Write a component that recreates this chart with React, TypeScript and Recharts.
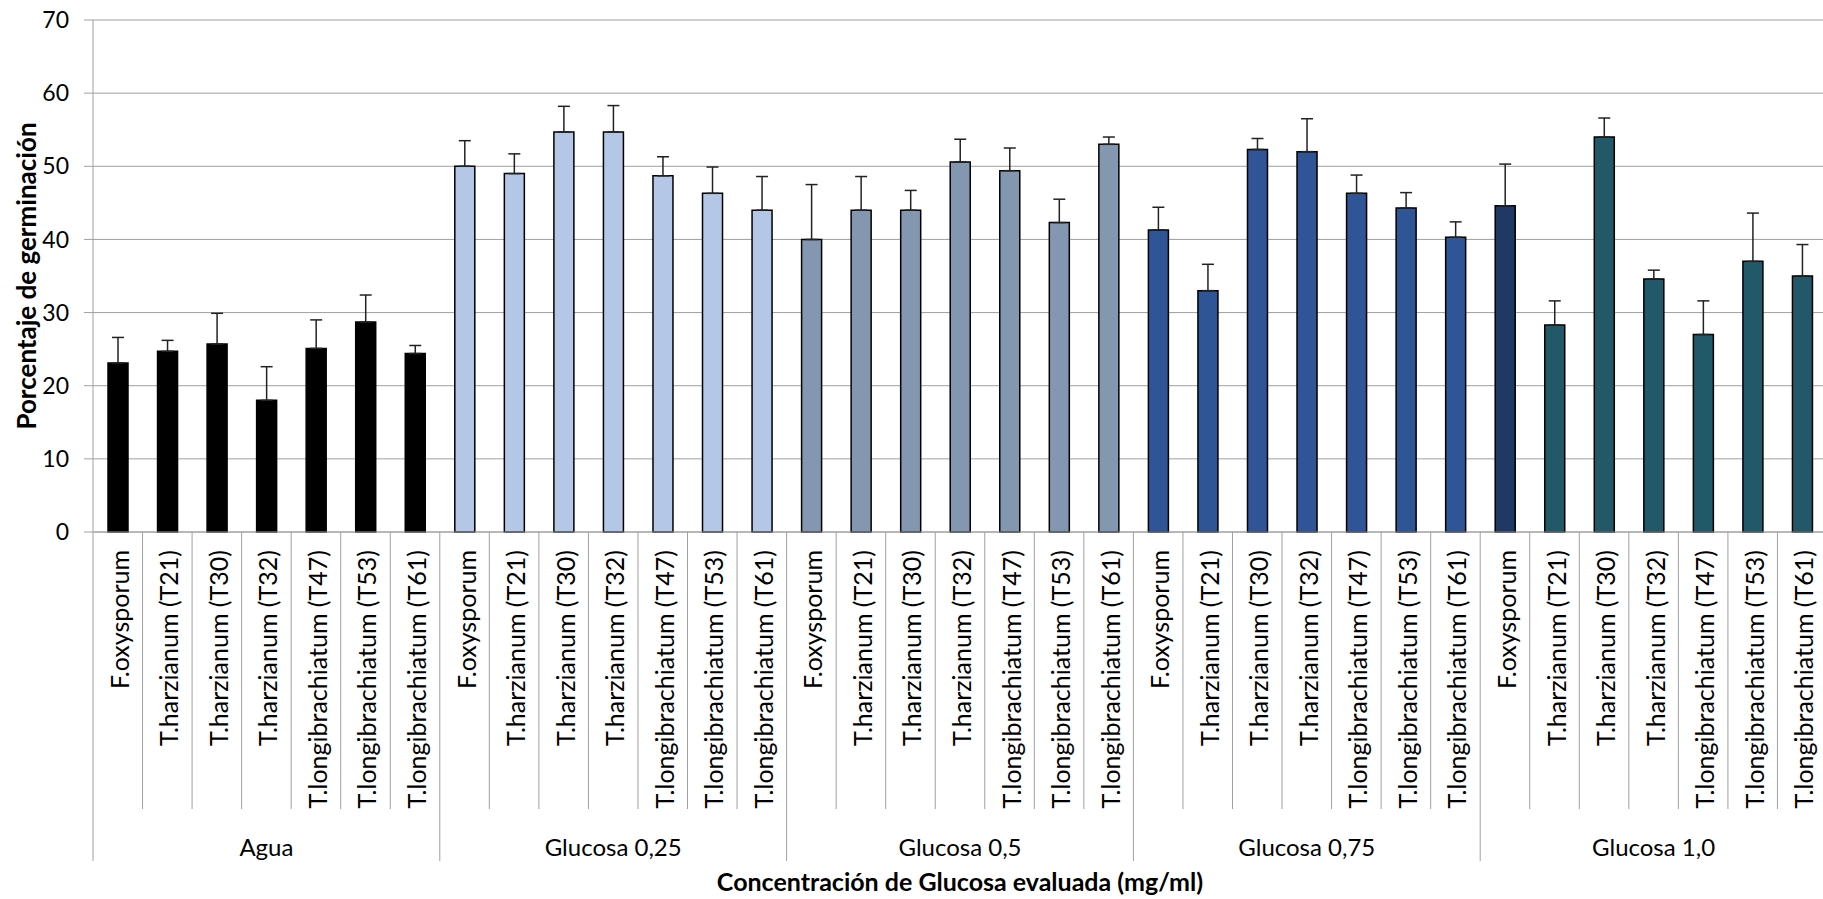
import React from "react";
import { BarChart, Bar, XAxis, YAxis, CartesianGrid, ErrorBar, Cell } from "recharts";

// categorías
const STRAINS = [
  "F.oxysporum",
  "T.harzianum (T21)",
  "T.harzianum (T30)",
  "T.harzianum (T32)",
  "T.longibrachiatum (T47)",
  "T.longibrachiatum (T53)",
  "T.longibrachiatum (T61)",
];
const GROUPS = ["Agua", "Glucosa 0,25", "Glucosa 0,5", "Glucosa 0,75", "Glucosa 1,0"];

// % germinación (media) y desviación (solo hacia arriba)
const aguaMean = [23.1, 24.7, 25.7, 18.0, 25.1, 28.7, 24.4];
const aguaErr = [3.5, 1.5, 4.2, 4.6, 3.9, 3.7, 1.1];
const glu025Mean = [50.0, 49.0, 54.7, 54.7, 48.7, 46.3, 44.0];
const glu025Err = [3.5, 2.7, 3.5, 3.6, 2.6, 3.6, 4.6];
const glu05Mean = [40.0, 44.0, 44.0, 50.6, 49.4, 42.3, 53.0];
const glu05Err = [7.5, 4.6, 2.7, 3.1, 3.1, 3.2, 1.0];
const glu075Mean = [41.3, 33.0, 52.3, 52.0, 46.3, 44.3, 40.3];
const glu075Err = [3.1, 3.6, 1.5, 4.5, 2.5, 2.1, 2.1];
const glu10Mean = [44.6, 28.3, 54.0, 34.6, 27.0, 37.0, 35.0];
const glu10Err = [5.7, 3.3, 2.6, 1.2, 4.6, 6.6, 4.3];

const Y_TICKS = [0, 10, 20, 30, 40, 50, 60, 70];

const MEANS = [aguaMean, glu025Mean, glu05Mean, glu075Mean, glu10Mean];
const ERRS = [aguaErr, glu025Err, glu05Err, glu075Err, glu10Err];

const GROUP_COLORS = ["#000000", "#B4C7E7", "#8497B0", "#2F5597", "#215968"];
const LAST_CONTROL_COLOR = "#203864";

const W = 1827;
const H = 899;
const LEFT = 93;
const TOP = 20;
const AXIS_Y = 532;
const CELL = (W - LEFT) / (GROUPS.length * STRAINS.length);
const GRID = "#a0a0a0";
const FONT = "Lato, 'Open Sans', sans-serif";

const rows = GROUPS.flatMap((g, gi) =>
  STRAINS.map((s, si) => ({
    key: `${g}|${s}`,
    strain: s,
    group: g,
    value: MEANS[gi][si],
    err: [0, ERRS[gi][si]],
    color: gi === 4 && si === 0 ? LAST_CONTROL_COLOR : GROUP_COLORS[gi],
  }))
);

const CatTick = (props: any) => {
  const { x, payload } = props;
  const index = props.index ?? payload.index;
  const row = rows[index];
  if (!row) return null;
  const left = x - CELL / 2;
  const groupStart = index % STRAINS.length === 0;
  const labelTop = AXIS_Y + 18;
  return (
    <g>
      <line x1={left} y1={AXIS_Y} x2={left} y2={groupStart ? 861 : 809} stroke={GRID} strokeWidth={1} />
      {index === rows.length - 1 && (
        <line x1={left + CELL} y1={AXIS_Y} x2={left + CELL} y2={861} stroke={GRID} strokeWidth={1} />
      )}
      <text
        x={x + 1}
        y={labelTop}
        transform={`rotate(-90, ${x + 1}, ${labelTop})`}
        textAnchor="end"
        dominantBaseline="central"
        fontFamily={FONT}
        fontSize={25}
        fill="#000"
      >
        {row.strain}
      </text>
      {index % STRAINS.length === 3 && (
        <text x={x} y={846} textAnchor="middle" dominantBaseline="central" fontFamily={FONT} fontSize={24} fill="#000">
          {row.group}
        </text>
      )}
      {index === 17 && (
        <text
          x={x}
          y={881}
          textAnchor="middle"
          dominantBaseline="central"
          fontFamily={FONT}
          fontSize={25}
          fontWeight="bold"
          fill="#000"
        >
          Concentración de Glucosa evaluada (mg/ml)
        </text>
      )}
    </g>
  );
};

const YTitle = (props: any) => {
  const vb = props.viewBox || {};
  const cy = vb.height ? vb.y + vb.height / 2 : (TOP + AXIS_Y) / 2;
  const cx = 26;
  return (
    <text
      x={cx}
      y={cy}
      transform={`rotate(-90, ${cx}, ${cy})`}
      textAnchor="middle"
      dominantBaseline="central"
      fontFamily={FONT}
      fontSize={26}
      fontWeight="bold"
      fill="#000"
    >
      Porcentaje de germinación
    </text>
  );
};

export default function App() {
  return (
    <div style={{ width: 1823, height: H, overflow: "hidden", background: "#fff" }}>
      <style>{"body{margin:0;background:#fff}"}</style>
      <BarChart width={W} height={H} data={rows} margin={{ top: TOP, right: 0, left: 0, bottom: 0 }}>
        <CartesianGrid vertical={false} stroke={GRID} strokeWidth={1} />
        <XAxis
          dataKey="key"
          interval={0}
          height={H - AXIS_Y}
          tickLine={false}
          tickSize={0}
          tickMargin={0}
          axisLine={{ stroke: GRID }}
          tick={<CatTick />}
        />
        <YAxis
          width={LEFT}
          domain={[0, 70]}
          ticks={Y_TICKS}
          interval={0}
          tickSize={9}
          tickMargin={15}
          axisLine={{ stroke: GRID }}
          tickLine={{ stroke: GRID }}
          tick={{ fontFamily: FONT, fontSize: 23, fill: "#000" }}
          label={<YTitle />}
        />
        <Bar dataKey="value" barSize={20} stroke="#000" strokeWidth={1.5} isAnimationActive={false}>
          {rows.map((r) => (
            <Cell key={r.key} fill={r.color} />
          ))}
          <ErrorBar dataKey="err" direction="y" width={6} stroke="#222" strokeWidth={1.5} isAnimationActive={false} />
        </Bar>
      </BarChart>
    </div>
  );
}
